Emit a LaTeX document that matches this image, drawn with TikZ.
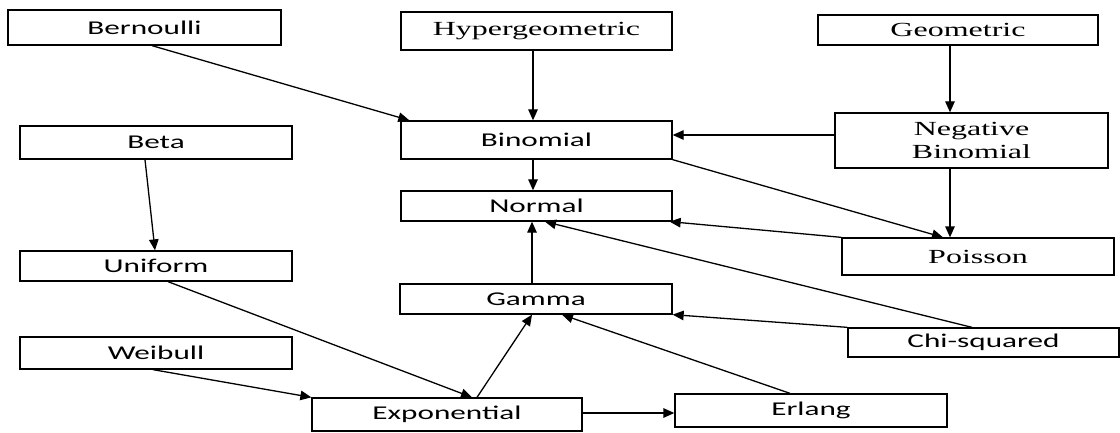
\documentclass[tikz,border=0pt]{standalone}
\usepackage{fontspec}
\setmainfont{Liberation Serif}[FakeStretch=1.6]
\newfontfamily\calibfam{Carlito}[FakeStretch=1.6]
\usetikzlibrary{arrows.meta}
\tikzset{
  box/.style={draw=black, line width=1.3pt, inner sep=0pt, align=center},
  sbox/.style={box, font=\calibfam\fontsize{19.5}{22}\selectfont},
  tbox/.style={box, font=\fontsize{20}{23}\selectfont},
  conn/.style={line width=1.3pt, -{Triangle[length=11pt,width=9.5pt]}}
}
\begin{document}
\begin{tikzpicture}[x=1pt,y=-1pt]
\useasboundingbox (0,0) rectangle (1120,433);
\fill[white] (0,0) rectangle (1120,433);
% left column
\node[sbox, minimum width=273pt, minimum height=35pt] (ber) at (144.5,27.5) {Bernoulli};
\node[sbox, minimum width=272pt, minimum height=33pt] (beta) at (156,142.5) {Beta};
\node[sbox, minimum width=272pt, minimum height=30pt] (uni) at (156,266) {Uniform};
\node[sbox, minimum width=272pt, minimum height=32pt] (wei) at (156,353) {Weibull};
\node[sbox, minimum width=270pt, minimum height=33pt] (exp) at (447,414.5) {Exponential};
% middle column
\node[tbox, minimum width=271pt, minimum height=38pt] (hyp) at (536.5,31) {Hypergeometric};
\node[sbox, minimum width=271pt, minimum height=38pt] (bin) at (536.5,140) {Binomial};
\node[sbox, minimum width=271pt, minimum height=30pt] (nor) at (536.5,206) {Normal};
\node[sbox, minimum width=272pt, minimum height=30pt] (gam) at (536,299) {Gamma};
\node[sbox, minimum width=272pt, minimum height=33pt] (erl) at (811,410.5) {Erlang};
% right column
\node[tbox, minimum width=280pt, minimum height=30pt] (geo) at (958,30) {Geometric};
\node[tbox, minimum width=273pt, minimum height=55pt] (neg) at (971.5,140.5) {Negative\\Binomial};
\node[tbox, minimum width=272pt, minimum height=37pt] (poi) at (978,256.5) {Poisson};
\node[sbox, minimum width=271pt, minimum height=29pt] (chi) at (983.5,342.5) {Chi-squared};
% connectors
\draw[conn] ([xshift=7.5pt]ber.south) -- ([xshift=9pt]bin.north west);
\draw[conn] ([xshift=-3.5pt]hyp.south) -- ([xshift=-3.5pt]bin.north);
\draw[conn] ([xshift=-8pt]geo.south) -- ([xshift=-21.5pt]neg.north);
\draw[conn] ([yshift=5.5pt]neg.west) -- ([yshift=5pt]bin.east);
\draw[conn] (bin.south east) -- ([xshift=-35pt]poi.north);
\draw[conn] ([xshift=-21.5pt]neg.south) -- ([xshift=-28pt]poi.north);
\draw[conn] ([xshift=-3.5pt]bin.south) -- ([xshift=-3.5pt]nor.north);
\draw[conn] (poi.north west) -- ([xshift=-3pt]nor.south east);
\draw[conn] ([xshift=-11.5pt]chi.north) -- ([xshift=8.5pt]nor.south);
\draw[conn] ([xshift=-4pt]gam.north) -- ([xshift=-4.5pt]nor.south);
\draw[conn] (chi.north west) -- (gam.south east);
\draw[conn] ([xshift=-21pt]erl.north) -- ([xshift=26pt]gam.south);
\draw[conn] ([xshift=30pt]exp.north) -- ([xshift=-4pt]gam.south);
\draw[conn] ([xshift=12pt]uni.south) -- ([xshift=25pt]exp.north);
\draw[conn] ([xshift=-3pt]wei.south) -- (exp.north west);
\draw[conn] ([yshift=1.5pt]exp.east) -- ([yshift=-2.5pt]erl.west);
\draw[conn] ([xshift=-11pt]beta.south) -- ([xshift=-1pt]uni.north);
\end{tikzpicture}
\end{document}
